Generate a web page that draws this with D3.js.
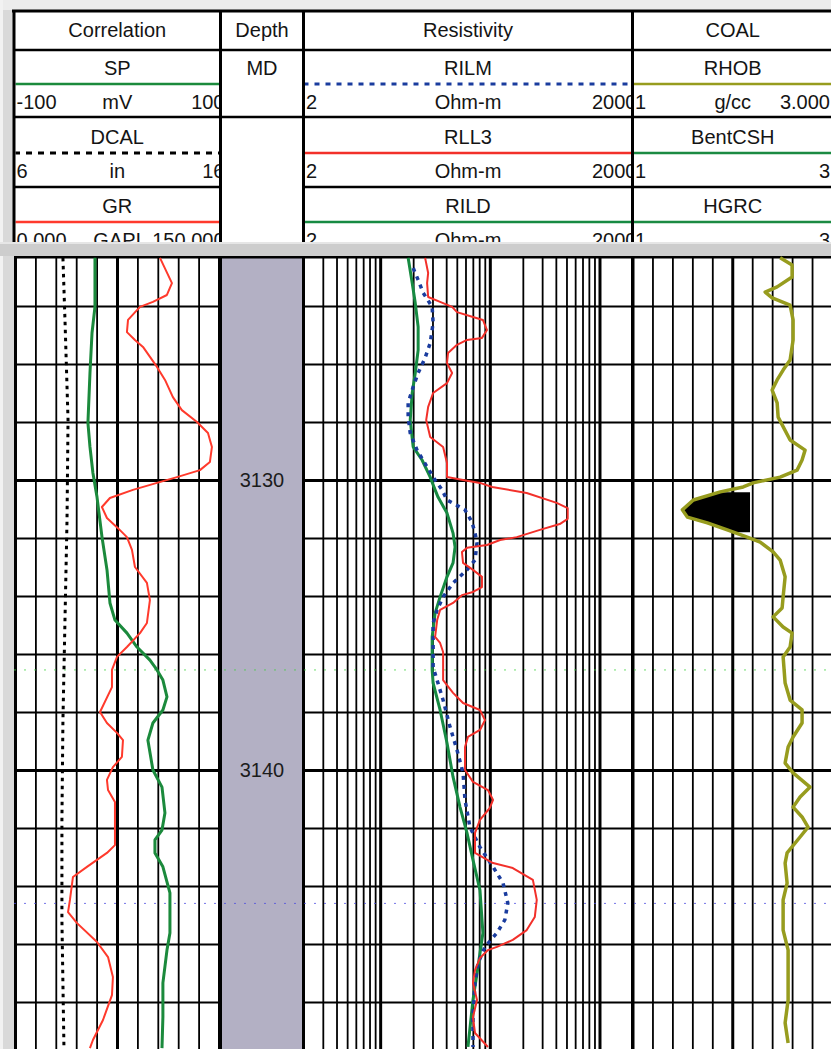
<!DOCTYPE html>
<html>
<head>
<meta charset="utf-8">
<script src="https://d3js.org/d3.v7.min.js"></script>
<style>
  body { margin: 0; background: #fff; }
  svg { display: block; font-family: "Liberation Sans", Arial, sans-serif; }
  .hdr text { font-size: 20px; fill: #141414; }
  .grid line { stroke: #000; }
  .curve { fill: none; stroke-linejoin: round; stroke-linecap: butt; }
  .depthlbl { font-size: 20px; fill: #1c1c1c; }
</style>
</head>
<body>
<script>
// ---- data (depth in m, value in curve units) ----
var trackTitles = ["Correlation", "Depth", "Resistivity", "COAL"];
var corrNames = ["SP", "DCAL", "GR"];
var corrScales = [["-100", "mV", "100"], ["6", "in", "16"], ["0.000", "GAPI", "150.000"]];
var resNames = ["RILM", "RLL3", "RILD"];
var resScales = [["2", "Ohm-m", "2000"], ["2", "Ohm-m", "2000"], ["2", "Ohm-m", "2000"]];
var coalNames = ["RHOB", "BentCSH", "HGRC"];
var coalScales = [["1", "g/cc", "3.000"], ["1", "", "3"], ["1", "", "3"]];
var depthRef = "MD";

var depthGrid = [3122, 3124, 3126, 3128, 3130, 3132, 3134, 3136, 3138, 3140, 3142, 3144, 3146, 3148, 3150];
var depthMajor = [3130, 3140];
var depthLabels = [3130, 3140];
var markerDepths = [3136.55, 3144.6];

var spData = [[3122.34,-21.6],[3124.03,-21.6],[3124.93,-24.5],[3126.31,-26.5],[3128.03,-28.5],[3128.86,-26.5],
  [3129.76,-23.6],[3130.59,-19.6],[3131.97,-14.7],[3133.10,-9.8],[3134.24,-6.9],[3134.83,-2.0],[3135.28,9.8],
  [3135.76,19.6],[3136.21,32.3],[3136.55,39.2],[3136.90,45.0],[3137.48,49.0],[3137.93,45.0],[3138.38,35.2],
  [3138.97,30.3],[3140.00,35.2],[3140.59,44.1],[3141.48,47.0],[3142.07,44.1],[3142.41,37.2],[3142.86,37.2],
  [3143.34,45.0],[3144.24,51.9],[3145.62,51.9],[3146.21,49.0],[3147.34,45.0],[3148.52,45.0],[3149.59,44.1]];

var dcalData = [[3122.34,8.35],[3124.48,8.45],[3127.93,8.60],[3131.38,8.55],[3134.83,8.45],[3138.28,8.35],
  [3141.72,8.30],[3145.17,8.30],[3149.59,8.40]];

var grData = [[3122.34,106.6],[3123.21,115.4],[3123.62,111.7],[3123.86,101.4],[3124.03,91.9],[3124.48,83.1],
  [3124.90,82.3],[3125.17,88.2],[3125.41,94.1],[3126.10,104.4],[3126.55,110.3],[3127.14,116.1],[3127.59,122.7],
  [3128.00,133.8],[3128.38,141.9],[3128.86,144.8],[3129.38,143.3],[3129.66,136.0],[3129.90,119.1],[3130.10,104.4],
  [3130.34,86.7],[3130.62,69.8],[3130.93,63.9],[3131.31,67.6],[3131.66,75.7],[3131.97,82.3],[3132.41,86.0],
  [3133.00,88.2],[3133.55,97.0],[3134.14,99.2],[3134.93,97.0],[3135.28,91.9],[3135.76,82.3],[3136.10,75.0],
  [3136.55,71.3],[3137.14,71.3],[3138.00,62.5],[3138.38,67.6],[3138.72,75.0],[3138.97,79.4],[3139.55,78.6],
  [3139.90,72.0],[3140.34,67.6],[3140.69,68.4],[3141.10,73.5],[3142.59,73.5],[3142.86,67.6],[3143.34,52.9],
  [3143.69,42.6],[3144.48,40.4],[3144.90,39.0],[3145.28,45.6],[3145.93,60.3],[3146.45,68.4],[3147.14,72.0],
  [3147.76,71.3],[3148.62,64.7],[3149.31,57.3],[3149.59,55.1]];

var rilmData = [[3122.69,20.0],[3123.10,22.2],[3123.55,24.7],[3124.03,29.8],[3124.59,30.4],[3125.28,28.6],
  [3125.79,25.7],[3126.31,22.2],[3126.79,20.0],[3127.34,18.0],[3127.83,18.0],[3128.38,18.8],[3128.97,21.7],
  [3129.55,26.8],[3130.00,31.7],[3130.34,36.7],[3130.69,40.7],[3131.03,59.4],[3131.45,68.7],[3131.83,73.3],
  [3132.17,76.4],[3132.76,73.3],[3133.10,61.9],[3133.55,46.2],[3134.03,37.5],[3134.48,33.1],[3134.93,30.4],
  [3136.45,30.4],[3137.59,37.5],[3138.52,43.4],[3139.31,50.2],[3140.10,57.0],[3141.03,59.4],[3141.97,65.9],
  [3142.66,81.3],[3143.34,107],[3143.90,132],[3144.59,146],[3145.17,137],[3145.62,116],[3146.10,90.3],
  [3146.66,78.0],[3147.34,73.3],[3148.52,70.2],[3149.55,70.2]];

var rll3Data = [[3122.34,25.7],[3122.86,27.4],[3123.21,26.8],[3123.69,27.4],[3123.86,35.2],[3124.03,45.3],
  [3124.21,50.2],[3124.38,70.2],[3124.48,86.5],[3124.83,94.2],[3125.10,84.8],[3125.17,61.9],[3125.34,50.2],
  [3125.62,41.6],[3125.97,40.7],[3126.31,45.3],[3126.66,40.7],[3127.00,30.4],[3127.48,27.4],[3127.93,26.3],
  [3128.52,28.6],[3128.86,37.5],[3129.41,40.7],[3129.90,40.7],[3130.00,57.0],[3130.10,81.3],[3130.24,105],
  [3130.45,217],[3130.79,407],[3130.97,513],[3131.34,513],[3131.52,434],[3131.72,286],[3131.97,176],
  [3132.07,124],[3132.24,94.2],[3132.34,61.9],[3132.48,55.7],[3132.86,57.0],[3133.10,70.2],[3133.34,84.8],
  [3133.69,84.8],[3133.86,70.2],[3133.97,55.7],[3134.24,46.2],[3134.48,35.2],[3134.83,33.1],[3135.41,31.7],
  [3135.62,35.2],[3135.93,37.5],[3136.90,37.5],[3137.34,46.2],[3137.69,57.0],[3137.93,81.3],[3138.28,90.3],
  [3138.62,81.3],[3138.86,63.2],[3139.21,59.4],[3140.00,59.4],[3140.41,70.2],[3140.69,96.2],[3141.03,107],
  [3141.31,100],[3141.72,81.3],[3142.17,73.3],[3142.86,73.3],[3143.21,107],[3143.38,162],[3143.79,247],
  [3144.48,268],[3145.07,257],[3145.52,217],[3145.86,162],[3146.10,116],[3146.21,96.2],[3146.48,81.3],
  [3146.90,73.3],[3147.34,70.2],[3147.93,76.4],[3148.52,70.2],[3149.07,73.3],[3149.55,96.2]];

var rildData = [[3122.34,18.0],[3123.21,19.6],[3123.90,20.9],[3124.72,22.2],[3125.52,22.2],[3126.31,20.9],
  [3127.00,19.6],[3127.93,18.8],[3128.86,20.0],[3129.31,24.1],[3129.90,28.6],[3130.34,31.7],[3130.59,33.7],
  [3131.14,40.7],[3131.83,46.2],[3132.31,48.2],[3132.86,46.2],[3133.34,40.7],[3134.03,35.2],[3134.59,31.7],
  [3135.41,29.8],[3136.55,29.8],[3137.00,30.4],[3137.93,35.2],[3139.07,40.7],[3140.24,46.2],[3141.28,53.5],
  [3142.17,61.9],[3143.10,70.2],[3144.14,81.3],[3145.62,86.5],[3146.79,78.0],[3147.93,70.2],[3149.55,63.2]];

var rhobData = [[3122.34,2.48],[3122.59,2.60],[3123.00,2.60],[3123.34,2.45],[3123.52,2.33],[3123.72,2.40],
  [3123.97,2.58],[3124.48,2.61],[3125.17,2.61],[3125.86,2.58],[3126.21,2.51],[3126.55,2.45],[3126.90,2.40],
  [3127.34,2.45],[3127.83,2.46],[3128.62,2.58],[3128.97,2.73],[3129.31,2.70],[3129.66,2.65],[3129.90,2.48],
  [3130.10,2.21],[3130.24,2.11],[3130.41,1.88],[3130.69,1.61],[3131.03,1.50],[3131.28,1.55],[3131.48,1.75],
  [3131.72,1.95],[3131.97,2.15],[3132.14,2.28],[3132.48,2.41],[3132.76,2.48],[3133.34,2.53],[3134.03,2.51],
  [3134.41,2.50],[3134.72,2.41],[3135.07,2.51],[3135.28,2.60],[3135.76,2.58],[3136.10,2.51],[3137.00,2.53],
  [3137.59,2.58],[3137.93,2.70],[3138.38,2.70],[3138.86,2.61],[3139.21,2.56],[3139.76,2.53],[3140.10,2.61],
  [3140.59,2.78],[3140.93,2.68],[3141.28,2.61],[3141.62,2.70],[3141.97,2.76],[3142.31,2.68],[3142.86,2.55],
  [3143.21,2.53],[3143.90,2.55],[3144.48,2.51],[3145.52,2.51],[3146.21,2.56],[3147.93,2.56],[3148.72,2.53],
  [3149.41,2.56]];

var coalCutoff = 2.18;          // g/cc
var coalTop = 3130.42, coalBase = 3131.80;

// ---- layout ----
var W = 831, H = 1049;
var hdrTop = 10, hdrBottom = 242, plotTop = 256;
var cols = [[14, 220.5], [220.5, 303.5], [303.5, 632.5], [632.5, 833]];
var rowTops = [50, 117, 187];

var y = d3.scaleLinear().domain([3122, 3150]).range([248, 1060]);
var spX = d3.scaleLinear().domain([-100, 100]).range([15, 219]);
var grX = d3.scaleLinear().domain([0, 150]).range([15, 219]);
var calX = d3.scaleLinear().domain([6, 16]).range([15, 219]);
var resX = d3.scaleLog().domain([2, 2000]).range([303.5, 632.5]);
var rhobX = d3.scaleLinear().domain([1, 3]).range([632.5, 832]);

var svg = d3.select("body").append("svg").attr("width", W).attr("height", H);
var defs = svg.append("defs");

// window chrome
svg.append("rect").attr("width", W).attr("height", H).attr("fill", "#d9d9d9");
svg.append("rect").attr("width", W).attr("height", hdrTop).attr("fill", "#ececec");
svg.append("rect").attr("x", 0).attr("y", 0).attr("width", 3).attr("height", H).attr("fill", "#f2f2f2");
svg.append("rect").attr("x", 14).attr("y", hdrTop).attr("width", W - 14).attr("height", hdrBottom - hdrTop).attr("fill", "#fff");
svg.append("rect").attr("x", 0).attr("y", hdrBottom).attr("width", W).attr("height", plotTop - hdrBottom).attr("fill", "#cdcdcd");
svg.append("rect").attr("x", 0).attr("y", hdrBottom).attr("width", W).attr("height", 2).attr("fill", "#e6e6e6");
svg.append("rect").attr("x", 14).attr("y", plotTop).attr("width", W - 14).attr("height", H - plotTop).attr("fill", "#fff");

// ---- header ----
var hdr = svg.append("g").attr("class", "hdr");
cols.forEach(function(c, i) {
  defs.append("clipPath").attr("id", "hc" + i)
    .append("rect").attr("x", c[0] + 1.5).attr("y", hdrTop)
    .attr("width", c[1] - c[0] - 3).attr("height", hdrBottom - hdrTop);
});

var styles = {
  SP: {color: "#1b8a3c", width: 3, dash: null},
  DCAL: {color: "#000", width: 3, dash: "3.5,4.5"},
  GR: {color: "#ff3a2c", width: 2, dash: null},
  RILM: {color: "#1a3c9e", width: 3.5, dash: "4,5"},
  RLL3: {color: "#f2302a", width: 2, dash: null},
  RILD: {color: "#178a42", width: 3, dash: null},
  RHOB: {color: "#979c1e", width: 3.5, dash: null},
  BentCSH: {color: "#1b8a42", width: 3, dash: null},
  HGRC: {color: "#1b8a42", width: 3, dash: null}
};
var hdrDash = {DCAL: "6,6", RILM: "5,6"};

function curveHeader(ci, names, scales, rightEdge) {
  var c = cols[ci];
  var g = hdr.append("g").attr("clip-path", "url(#hc" + ci + ")");
  names.forEach(function(n, i) {
    var t = rowTops[i] + (i === 1 ? 2 : 0) + (i === 2 ? 1 : 0);
    var s = styles[n];
    g.append("text").attr("x", (c[0] + c[1]) / 2).attr("y", t + 25)
      .attr("text-anchor", "middle").text(n);
    g.append("line").attr("x1", c[0]).attr("x2", c[1])
      .attr("y1", t + 34).attr("y2", t + 34)
      .style("stroke", s.color).style("stroke-width", hdrDash[n] ? 3 : 2.5)
      .style("stroke-dasharray", hdrDash[n] || null);
    var sc = scales[i];
    g.append("text").attr("x", c[0] + 2.5).attr("y", t + 59).text(sc[0]);
    g.append("text").attr("x", (c[0] + c[1]) / 2).attr("y", t + 59).attr("text-anchor", "middle").text(sc[1]);
    g.append("text").attr("x", rightEdge).attr("y", t + 59).attr("text-anchor", "end").text(sc[2]);
  });
}

cols.forEach(function(c, i) {
  hdr.append("text").attr("clip-path", "url(#hc" + i + ")")
    .attr("x", (c[0] + c[1]) / 2).attr("y", 37).attr("text-anchor", "middle").text(trackTitles[i]);
});
curveHeader(0, corrNames, corrScales, cols[0][1] + 4);
curveHeader(2, resNames, resScales, cols[2][1] + 4);
curveHeader(3, coalNames, coalScales, W - 1);
hdr.append("text").attr("x", (cols[1][0] + cols[1][1]) / 2).attr("y", 75)
  .attr("text-anchor", "middle").text(depthRef);

// header rules
hdr.append("line").attr("x1", 12).attr("x2", W).attr("y1", hdrTop + 1).attr("y2", hdrTop + 1)
  .style("stroke", "#000").style("stroke-width", 3);
[50, 117].forEach(function(yy) {
  hdr.append("line").attr("x1", 14).attr("x2", W).attr("y1", yy).attr("y2", yy)
    .style("stroke", "#000").style("stroke-width", 2.5);
});
[[14, 220.5], [303.5, W]].forEach(function(seg) {
  hdr.append("line").attr("x1", seg[0]).attr("x2", seg[1]).attr("y1", 187).attr("y2", 187)
    .style("stroke", "#000").style("stroke-width", 2.5);
});
[14, 220.5, 303.5, 632.5].forEach(function(xx) {
  hdr.append("line").attr("x1", xx).attr("x2", xx).attr("y1", hdrTop).attr("y2", hdrBottom)
    .style("stroke", "#000").style("stroke-width", 3);
});

// ---- plot ----
defs.append("clipPath").attr("id", "plotClip")
  .append("rect").attr("x", 14).attr("y", plotTop).attr("width", W - 14).attr("height", H - plotTop);
var plot = svg.append("g").attr("clip-path", "url(#plotClip)");

// depth track
plot.append("rect").attr("x", 222).attr("y", plotTop).attr("width", 80).attr("height", H - plotTop)
  .attr("fill", "#b3b0c4");

function grid(scale, ticks, isMajor, x0, x1) {
  var gv = plot.append("g").attr("class", "grid")
    .attr("transform", "translate(0," + H + ")")
    .call(d3.axisBottom(scale).tickValues(ticks).tickSize(-(H - plotTop)).tickFormat(""));
  gv.select(".domain").remove();
  gv.selectAll("line").style("stroke-width", function(d, i) { return isMajor(d, i) ? 3 : 1.8; });

  var gh = plot.append("g").attr("class", "grid")
    .attr("transform", "translate(" + x0 + ",0)")
    .call(d3.axisRight(y).tickValues(depthGrid).tickSize(x1 - x0).tickFormat(""));
  gh.select(".domain").remove();
  gh.selectAll("line").style("stroke-width", function(d) { return depthMajor.indexOf(d) >= 0 ? 3.2 : 2; });
}

grid(spX, d3.range(-100, 101, 20), function(d, i) { return i % 5 === 0; }, 14, 220.5);
grid(resX, resX.ticks(), function(d) {
  var l = Math.log10(d); return Math.abs(l - Math.round(l)) < 1e-9;
}, 303.5, 632.5);
grid(rhobX, d3.range(0, 11).map(function(i) { return 1 + i * 0.2; }), function(d, i) { return i % 5 === 0; }, 632.5, 833);

// track borders
[14, 220.5, 303.5, 632.5].forEach(function(xx) {
  plot.append("line").attr("x1", xx).attr("x2", xx).attr("y1", plotTop).attr("y2", H)
    .style("stroke", "#000").style("stroke-width", 3);
});
plot.append("line").attr("x1", 14).attr("x2", W).attr("y1", plotTop + 1).attr("y2", plotTop + 1)
  .style("stroke", "#000").style("stroke-width", 3);

// faint tops markers
plot.selectAll(".marker").data(markerDepths).enter().append("line")
  .attr("class", "marker")
  .attr("x1", 14).attr("x2", W)
  .attr("y1", function(d) { return y(d); }).attr("y2", function(d) { return y(d); })
  .style("stroke", function(d, i) { return i === 0 ? "#3fd23f" : "#4848e0"; })
  .style("stroke-width", 1).style("stroke-dasharray", "2,8").style("opacity", 0.75);

// depth labels
plot.selectAll(".depthlbl").data(depthLabels).enter().append("text")
  .attr("class", "depthlbl")
  .attr("x", 262).attr("y", function(d) { return y(d) + 7; })
  .attr("text-anchor", "middle").text(function(d) { return d; });

// coal flag: fill between RHOB and cutoff inside the coal interval
defs.append("clipPath").attr("id", "coalClip")
  .append("rect").attr("x", rhobX(1)).attr("y", y(coalTop))
  .attr("width", rhobX(coalCutoff) - rhobX(1)).attr("height", y(coalBase) - y(coalTop));
var coalArea = d3.area()
  .y(function(d) { return y(d[0]); })
  .x0(function(d) { return rhobX(Math.min(d[1], coalCutoff)); })
  .x1(rhobX(coalCutoff));
plot.append("path").datum(rhobData)
  .attr("clip-path", "url(#coalClip)")
  .attr("d", coalArea).attr("fill", "#000");

function drawCurve(data, xs, name) {
  var s = styles[name];
  var line = d3.line().x(function(d) { return xs(d[1]); }).y(function(d) { return y(d[0]); });
  plot.append("path").datum(data).attr("class", "curve")
    .attr("d", line)
    .style("stroke", s.color).style("stroke-width", s.width)
    .style("stroke-dasharray", s.dash);
}

drawCurve(dcalData, calX, "DCAL");
drawCurve(spData, spX, "SP");
drawCurve(grData, grX, "GR");
drawCurve(rildData, resX, "RILD");
drawCurve(rilmData, resX, "RILM");
drawCurve(rll3Data, resX, "RLL3");
drawCurve(rhobData, rhobX, "RHOB");
</script>
</body>
</html>
